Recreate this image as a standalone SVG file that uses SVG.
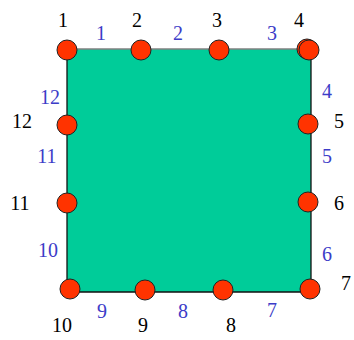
<svg xmlns="http://www.w3.org/2000/svg" width="354" height="340" viewBox="0 0 354 340">
<style>
.n{fill:#FF3300;stroke:#222;stroke-width:1}
.t{font-family:'Liberation Serif','Times New Roman','DejaVu Serif',serif;font-size:20px;fill:#000;text-anchor:middle}
.e{font-family:'Liberation Serif','Times New Roman','DejaVu Serif',serif;font-size:20px;fill:#3C3CC8;text-anchor:middle}
.c{stroke:#111;stroke-width:1.3;fill:none}
.g{stroke:#808080;stroke-width:1.5;fill:none}
</style>
<rect x="67" y="49" width="244" height="243" fill="#00CC99"/>
<g id="connectors">
<line class="g" x1="67" y1="49" x2="311" y2="49"/>
<line class="c" x1="311" y1="49" x2="311" y2="292"/>
<line class="c" x1="311" y1="292" x2="67" y2="292"/>
<line class="c" x1="67" y1="292" x2="67" y2="49"/>
<text class="e" x="101" y="40">1</text>
<text class="e" x="178" y="40">2</text>
<text class="e" x="272" y="40">3</text>
<text class="e" x="327" y="98">4</text>
<text class="e" x="327" y="163">5</text>
<text class="e" x="327" y="261">6</text>
<text class="e" x="272" y="317">7</text>
<text class="e" x="183" y="318">8</text>
<text class="e" x="102" y="318">9</text>
<text class="e" x="48" y="257">10</text>
<text class="e" x="47" y="163">11</text>
<text class="e" x="50" y="104">12</text>
</g>
<g id="n1"><circle class="n" cx="67" cy="50" r="10"/><text class="t" x="63" y="27">1</text></g>
<g id="n2"><circle class="n" cx="141" cy="50" r="10"/><text class="t" x="137" y="27">2</text></g>
<g id="n3"><circle class="n" cx="219" cy="50" r="10"/><text class="t" x="217" y="27">3</text></g>
<g id="n4"><circle class="n" cx="307" cy="49" r="10"/><circle class="n" cx="309" cy="50" r="10"/><text class="t" x="299" y="27">4</text></g>
<g id="n5"><circle class="n" cx="308" cy="124" r="10"/><text class="t" x="339" y="128">5</text></g>
<g id="n6"><circle class="n" cx="308" cy="202" r="10"/><text class="t" x="339" y="210">6</text></g>
<g id="n7"><circle class="n" cx="310" cy="289" r="10"/><text class="t" x="346" y="290">7</text></g>
<g id="n8"><circle class="n" cx="223" cy="290" r="10"/><text class="t" x="231" y="332">8</text></g>
<g id="n9"><circle class="n" cx="145" cy="290" r="10"/><text class="t" x="143" y="332">9</text></g>
<g id="n10"><circle class="n" cx="70" cy="289" r="10"/><text class="t" x="62" y="332">10</text></g>
<g id="n11"><circle class="n" cx="67" cy="203" r="10"/><text class="t" x="20" y="210">11</text></g>
<g id="n12"><circle class="n" cx="67" cy="125" r="10"/><text class="t" x="22" y="128">12</text></g>
</svg>
